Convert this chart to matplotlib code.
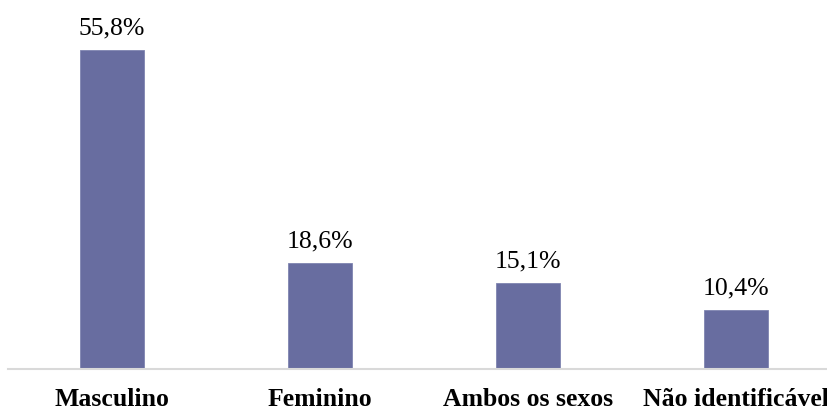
import matplotlib.pyplot as plt

categories = ["Masculino", "Feminino", "Ambos os sexos", "Não identificável"]
values = [55.8, 18.6, 15.1, 10.4]
labels = ["55,8%", "18,6%", "15,1%", "10,4%"]

plt.rcParams["font.family"] = ["Liberation Serif", "DejaVu Serif"]

fig = plt.figure(figsize=(8.28, 4.12), dpi=100)
# the original chart is cropped on the right, so the axes run past the figure edge
ax = fig.add_axes([8 / 828, 43 / 412, 832 / 828, 343 / 412])

x = range(len(categories))
bars = ax.bar(x, values, width=0.31, color="#686DA0", edgecolor="#7F84B0", linewidth=0.6)
for b, lab in zip(bars, labels):
    ax.annotate(lab, (b.get_x() + b.get_width() / 2, b.get_height()),
                xytext=(0, 11), textcoords="offset points",
                ha="center", va="baseline", fontsize=18.5)

ax.set_xlim(-0.5, 3.5)
ax.set_ylim(0, 60)
ax.set_xticks(list(x))
ax.set_xticklabels(categories, fontsize=18.5, fontweight="bold")
ax.tick_params(axis="x", length=0, pad=14)
ax.set_yticks([])
for side in ["top", "right", "left"]:
    ax.spines[side].set_visible(False)
ax.spines["bottom"].set_color("#D9D9D9")
ax.spines["bottom"].set_linewidth(1.5)

fig.savefig("out.png", dpi=100)
